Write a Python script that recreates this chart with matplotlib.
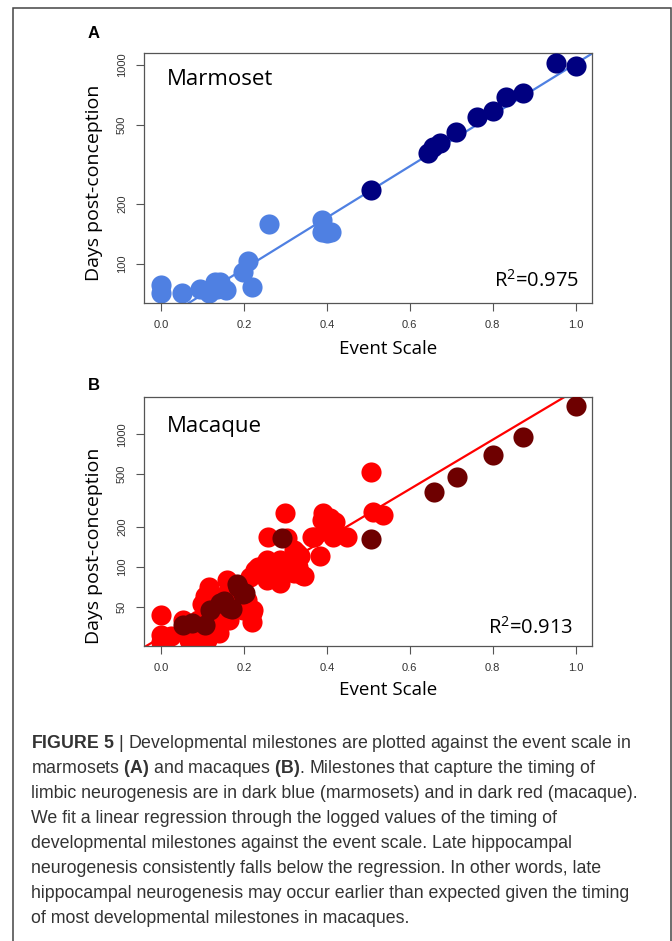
import numpy as np
import matplotlib
matplotlib.use("Agg")
import matplotlib.pyplot as plt
from matplotlib.patches import Rectangle

# Panel A: marmoset
mar_x = [0.0, 0.0, 0.052, 0.095, 0.115, 0.131, 0.143, 0.135, 0.157, 0.199, 0.211, 0.219,
         0.261, 0.388, 0.388, 0.400, 0.410]
mar_y = [78, 71, 71.4, 74.3, 71.4, 81, 81, 75, 73.6, 91, 103.5, 76.6,
         158, 167, 144, 143, 144]
mar_limbic_x = [0.507, 0.644, 0.657, 0.673, 0.712, 0.763, 0.800, 0.832, 0.874, 0.953, 1.0]
mar_limbic_y = [235, 362, 388, 406, 460, 545, 589, 693, 720, 1028, 992]
mar_fit = (1.716, 1.291)   # log10(days) = a + b * event scale
mar_r2 = "0.975"

# Panel B: macaque
mac_x = [0.0, 0.0, 0.0, 0.025, 0.054, 0.067, 0.09, 0.10, 0.107, 0.115, 0.111, 0.139,
         0.159, 0.163, 0.199, 0.207, 0.215, 0.219, 0.219, 0.223, 0.227, 0.235, 0.239,
         0.255, 0.255, 0.259, 0.280, 0.287, 0.287, 0.288, 0.300, 0.303, 0.303, 0.320,
         0.320, 0.328, 0.336, 0.340, 0.344, 0.364, 0.368, 0.384, 0.388, 0.390, 0.400,
         0.408, 0.416, 0.420, 0.448, 0.507, 0.512, 0.536,
         0.06, 0.09, 0.13, 0.15, 0.17, 0.19, 0.12, 0.145, 0.16, 0.27, 0.30, 0.31, 0.33]
mac_y = [43.5, 30.8, 27, 30, 40, 28, 28.5, 53, 60, 71, 28, 31.6,
         80, 40, 47.4, 56, 84.5, 44.8, 38.7, 47.4, 95, 100, 100,
         113, 80, 167, 95, 107, 75.3, 113, 256, 164, 100, 134,
         89.5, 127, 120, 87, 85, 169, 169, 120, 226, 256, 195,
         233, 169, 219, 169, 523, 261, 247,
         35, 40, 45, 60, 65, 55, 36, 38, 50, 90, 95, 110, 100]
mac_limbic_x = [0.054, 0.075, 0.107, 0.119, 0.143, 0.163, 0.171, 0.187, 0.203, 0.183,
                0.197, 0.151, 0.292, 0.507, 0.659, 0.715, 0.800, 0.872, 1.0]
mac_limbic_y = [36.6, 38, 36.6, 47.4, 53.2, 48.8, 48, 71, 63.4, 75,
                63, 55, 164, 163, 367, 474, 698, 960, 1636]
mac_fit = (1.470, 1.861)
mac_r2 = "0.913"

xticks = [0.0, 0.2, 0.4, 0.6, 0.8, 1.0]
yticks_a = [100, 200, 500, 1000]
yticks_b = [50, 100, 200, 500, 1000]

W, H = 672, 941
fig = plt.figure(figsize=(W / 100, H / 100), dpi=100)

label_font = "Open Sans"
tick_font = "Liberation Sans"


def px_rect(left, top, right, bottom):
    return [left / W, 1 - bottom / H, (right - left) / W, (bottom - top) / H]


def panel(rect, x, y, xl, yl, fit, c_main, c_limbic, c_line, yticks, ylim, name, r2,
          name_y, r2_pos, ylab_y, xlab_y):
    ax = fig.add_axes(rect)
    ax.set_yscale("log")
    xs = np.array([-0.04, 1.04])
    ax.plot(xs, 10 ** (fit[0] + fit[1] * xs), color=c_line, lw=1.6, zorder=1)
    ax.plot(x, y, "o", ms=14.5, mew=0, color=c_main, zorder=2)
    ax.plot(xl, yl, "o", ms=14.5, mew=0, color=c_limbic, zorder=3)
    ax.set_xlim(-0.04, 1.04)
    ax.set_ylim(*ylim)
    ax.set_xticks(xticks)
    ax.set_xticklabels([f"{t:.1f}" for t in xticks])
    ax.set_yticks(yticks)
    ax.set_yticklabels([str(t) for t in yticks], rotation=90, va="center")
    ax.minorticks_off()
    ax.tick_params(direction="out", length=5.5, width=0.8, color="#555555",
                   labelcolor="#333333", labelsize=8, pad=7)
    for lab in ax.get_xticklabels() + ax.get_yticklabels():
        lab.set_fontfamily(tick_font)
    for s in ax.spines.values():
        s.set_color("#555555")
        s.set_linewidth(0.9)
    ax.text(0.051, name_y, name, transform=ax.transAxes, fontsize=16,
            family=label_font, va="center", ha="left")
    ax.text(r2_pos[0], r2_pos[1], "R$^{2}$=" + r2, transform=ax.transAxes,
            fontsize=14.5, family=label_font, va="center", ha="right")
    ax.text(-0.112, ylab_y, "Days post-conception", transform=ax.transAxes,
            rotation=90, fontsize=14, family=label_font, va="center", ha="center")
    ax.text(0.544, xlab_y, "Event Scale", transform=ax.transAxes,
            fontsize=13.5, family=label_font, va="center", ha="center")
    return ax


plt.rcParams["mathtext.fontset"] = "custom"
plt.rcParams["mathtext.rm"] = "Open Sans"

panel(px_rect(144.3, 53.3, 592.3, 302.7), mar_x, mar_y, mar_limbic_x, mar_limbic_y,
      mar_fit, "#4F80E2", "#000080", "#4F80E2", yticks_a, (63.7, 1146),
      "Marmoset", mar_r2, 0.893, (0.970, 0.089), 0.482, -0.184)
panel(px_rect(144.3, 396.7, 592.3, 645.7), mac_x, mac_y, mac_limbic_x, mac_limbic_y,
      mac_fit, "#FF0000", "#6E0000", "#FF0000", yticks_b, (25.5, 1918),
      "Macaque", mac_r2, 0.882, (0.956, 0.073), 0.402, -0.178)

fig.text(94 / W, 1 - 33 / H, "A", fontsize=12, fontweight="bold",
         family="Liberation Sans", ha="center", va="center")
fig.text(94 / W, 1 - 386 / H, "B", fontsize=12, fontweight="bold",
         family="Liberation Sans", ha="center", va="center")

# outer frame
fig.patches.append(Rectangle((13 / W, -0.02), (671 - 13) / W, 1 - 8 / H + 0.02,
                             transform=fig.transFigure, fill=False,
                             edgecolor="#444444", lw=1.1))

# caption
plt.rcParams["mathtext.bf"] = "Liberation Sans:bold"
caption = [
    r"$\mathbf{FIGURE\ 5}$ | Developmental milestones are plotted against the event scale in",
    r"marmosets $\mathbf{(A)}$ and macaques $\mathbf{(B)}$. Milestones that capture the timing of",
    "limbic neurogenesis are in dark blue (marmosets) and in dark red (macaque).",
    "We fit a linear regression through the logged values of the timing of",
    "developmental milestones against the event scale. Late hippocampal",
    "neurogenesis consistently falls below the regression. In other words, late",
    "hippocampal neurogenesis may occur earlier than expected given the timing",
    "of most developmental milestones in macaques.",
]
for i, line in enumerate(caption):
    fig.text(31 / W, 1 - (748 + 25 * i) / H, line, fontsize=12.8,
             family="Liberation Sans", color="#333333", ha="left", va="baseline")

fig.savefig("out.png", dpi=100)
